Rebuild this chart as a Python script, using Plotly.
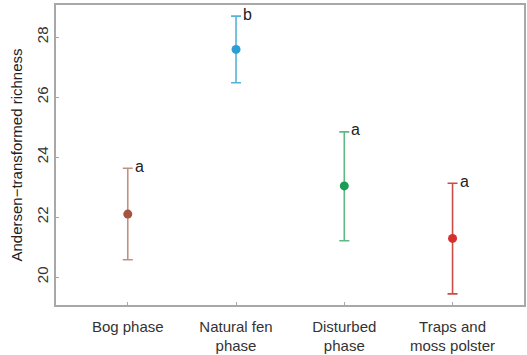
import plotly.graph_objects as go

# Group means with confidence limits
phases = ["Bog phase", "Natural fen<br>phase", "Disturbed<br>phase", "Traps and<br>moss polster"]
means = [22.10, 27.59, 23.04, 21.29]
upper = [23.63, 28.70, 24.84, 23.13]
lower = [20.58, 26.48, 21.21, 19.44]
letters = ["a", "b", "a", "a"]

point_colors = ["#a3533f", "#2b9fd4", "#1b9b58", "#d6302c"]
bar_colors = ["#c4917f", "#55b5d6", "#5db985", "#cd4c45"]

positions = [1, 2, 3, 4]

fig = go.Figure()
for i, x in enumerate(positions):
    fig.add_trace(go.Scatter(
        x=[x], y=[means[i]], mode="markers",
        marker=dict(color=point_colors[i], size=9),
        error_y=dict(type="data", symmetric=False,
                     array=[upper[i] - means[i]],
                     arrayminus=[means[i] - lower[i]],
                     color=bar_colors[i], thickness=1.6, width=5),
        showlegend=False, hoverinfo="skip",
    ))
    fig.add_annotation(x=x, y=upper[i], text=letters[i], showarrow=False,
                       xanchor="left", yanchor="middle", xshift=5, yshift=2,
                       font=dict(size=16, color="#222"))

axis_common = dict(showline=True, linecolor="#a8a8a8", linewidth=1.5, mirror=True,
                   ticks="inside", ticklen=3, tickcolor="#a8a8a8", tickwidth=1,
                   showgrid=False, zeroline=False,
                   tickfont=dict(family="Liberation Sans, Arial, sans-serif", size=15, color="#333"))

fig.update_xaxes(range=[0.337, 4.66], tickvals=positions, ticktext=phases,
                 ticklabelstandoff=7, **axis_common)
fig.update_yaxes(range=[19.07, 29.07], tickvals=[20, 22, 24, 26, 28], tickangle=-90,
                 ticklabelstandoff=0,
                 title=dict(text="Andersen\u2212transformed richness", standoff=8,
                            font=dict(family="Liberation Sans, Arial, sans-serif", size=15, color="#222")),
                 **axis_common)

fig.update_layout(width=527, height=355, margin=dict(l=56, r=1, t=5, b=49),
                  plot_bgcolor="white", paper_bgcolor="white",
                  font=dict(family="Liberation Sans, Arial, sans-serif"))

fig.write_html("out.html")
